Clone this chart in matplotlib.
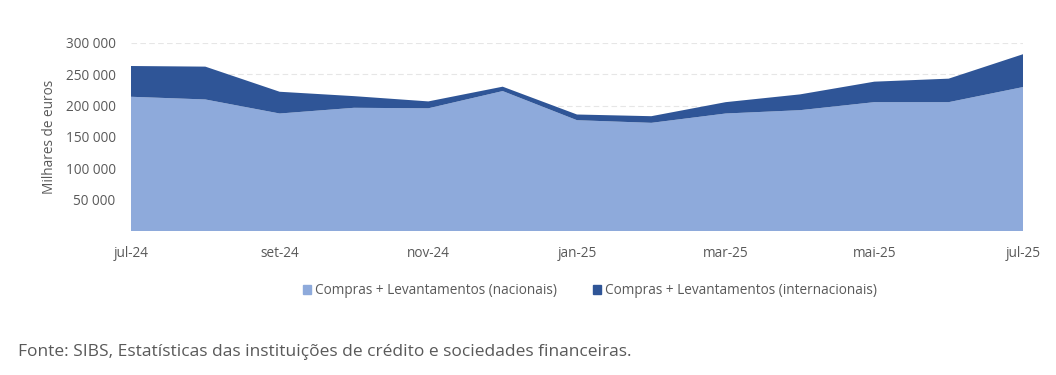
import matplotlib
matplotlib.use("Agg")
import matplotlib.pyplot as plt
from matplotlib.patches import Patch
import numpy as np

months = ["jul-24", "ago-24", "set-24", "out-24", "nov-24", "dez-24", "jan-25",
          "fev-25", "mar-25", "abr-25", "mai-25", "jun-25", "jul-25"]
nacionais = [214200, 209900, 187500, 196600, 195800, 223300, 176800,
             172600, 187500, 192800, 205600, 205600, 229700]
internacionais = [49100, 52400, 34700, 18600, 11000, 7000, 9100,
                  10600, 18100, 25200, 32700, 37500, 52400]
tick_labels = ["jul-24", "set-24", "nov-24", "jan-25", "mar-25", "mai-25", "jul-25"]
yticks = [50000, 100000, 150000, 200000, 250000, 300000]

c_nat = "#8eaadb"
c_int = "#2f5597"
grey = "#595959"
plt.rcParams['font.family'] = ['Open Sans', 'DejaVu Sans']

fig = plt.figure(figsize=(10.56, 3.75), dpi=100)
ax = fig.add_axes([131/1056, 1-231/375, (1023-131)/1056, (231-43)/375])
x = np.arange(len(months))
ax.stackplot(x, nacionais, internacionais, colors=[c_nat, c_int], linewidth=0, zorder=2)
ax.set_xlim(0, len(months)-1)
ax.set_ylim(0, 300000)
ax.set_yticks(yticks)
ax.set_yticklabels([f"{v:,}".replace(",", " ") for v in yticks], color=grey, fontsize=9.8)
ax.set_xticks([months.index(t) for t in tick_labels])
ax.set_xticklabels(tick_labels, color=grey, fontsize=9.8)
ax.tick_params(axis='y', length=0, pad=11)
ax.tick_params(axis='x', length=0, pad=11)
ax.grid(axis='y', color="#e6e6e6", linestyle=(0, (5, 3)), linewidth=0.8, zorder=1)
for s in ax.spines.values():
    s.set_visible(False)
ax.set_ylabel("Milhares de euros", color=grey, fontsize=9.8, labelpad=6)

handles = [Patch(color=c_nat, label="Compras + Levantamentos (nacionais)"),
           Patch(color=c_int, label="Compras + Levantamentos (internacionais)")]
fig.legend(handles=handles, loc="center", bbox_to_anchor=(590/1056, 1-291/375), ncol=2,
           frameon=False, fontsize=9.8, handlelength=0.6, handleheight=0.6,
           handletextpad=0.3, columnspacing=2.6, labelcolor=grey)
fig.text(18/1056, 1-352/375, "Fonte: SIBS, Estatísticas das instituições de crédito e sociedades financeiras.",
         color=grey, fontsize=12.5, va="center", ha="left")
fig.savefig("out.png", dpi=100)
